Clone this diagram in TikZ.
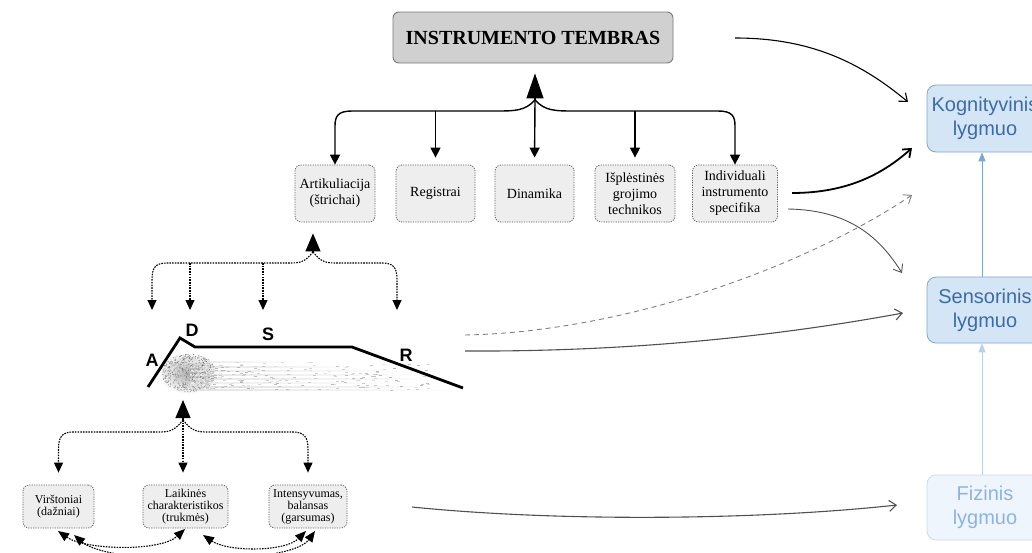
\documentclass[tikz,border=0pt]{standalone}
\usepackage{fontspec}
\setmainfont{Liberation Serif}
\newfontfamily\helv{Liberation Sans}
\usetikzlibrary{arrows.meta}

\definecolor{titlefill}{HTML}{D0D0D0}
\definecolor{titleline}{HTML}{7A7A7A}
\definecolor{boxfill}{HTML}{EEEEEE}
\definecolor{boxline}{HTML}{606060}
\definecolor{lvlfill}{HTML}{D4E6F6}
\definecolor{lvlline}{HTML}{7FA4D3}
\definecolor{lvltext}{HTML}{3D6CA8}
\definecolor{fizfill}{HTML}{EEF5FC}
\definecolor{fizline}{HTML}{C8DBF1}
\definecolor{fiztext}{HTML}{8DB3E2}
\definecolor{linkgray}{HTML}{505050}

\begin{document}
\begin{tikzpicture}[x=1pt,y=-1pt,
  titlebox/.style={draw=titleline, fill=titlefill, rounded corners=6pt, line width=0.9pt,
    minimum width=280pt, minimum height=51pt, inner sep=0pt,
    font=\fontsize{20}{24}\selectfont\bfseries},
  aspect/.style={draw=boxline, fill=boxfill, rounded corners=6pt, line width=0.8pt,
    dash pattern=on 1.2pt off 1.2pt, minimum height=57pt, inner sep=2pt, align=center,
    font=\fontsize{14}{16}\selectfont},
  feature/.style={aspect, minimum height=43pt, font=\fontsize{12}{12}\selectfont},
  level/.style={draw=lvlline, fill=lvlfill, text=lvltext, rounded corners=9pt, line width=0.8pt,
    minimum width=116pt, inner sep=0pt, align=center, font=\helv\fontsize{20}{24}\selectfont},
  fizlevel/.style={level, draw=fizline, fill=fizfill, text=fiztext},
  adsr/.style={font=\helv\bfseries\fontsize{18}{20}\selectfont, inner sep=0pt},
  tree/.style={line width=1.4pt, -{Triangle[width=10pt,length=10pt]}},
  dtree/.style={line width=1.1pt, dash pattern=on 1.6pt off 1.1pt, -{Triangle[width=9pt,length=10pt]}},
  dboth/.style={line width=1.1pt, dash pattern=on 1.6pt off 1.1pt,
    {Triangle[width=9pt,length=11pt]}-{Triangle[width=9pt,length=11pt]}},
  link/.style={line width=1.1pt, -{Straight Barb[length=7pt,width=11pt]}},
  bluearr/.style={line width=1pt, -{Triangle[width=7pt,length=9pt]}}
]
\useasboundingbox (0,0) rectangle (1032,552);

% ---------- nodes ----------
\node[titlebox] (title) at (533,37.5) {INSTRUMENTO TEMBRAS};

\node[aspect, minimum width=80pt] (art) at (335,193.5) {Artikuliacija\\(štrichai)};
\node[aspect, minimum width=79pt] (reg) at (435.5,193.5) {Registrai};
\node[aspect, minimum width=79pt] (din) at (534.5,193.5) {Dinamika};
\node[aspect, minimum width=80pt] (isp) at (635,193.5) {Išplėstinės\\grojimo\\technikos};
\node[aspect, minimum width=85pt] (ind) at (735,193.5) {Individuali\\instrumento\\specifika};

\node[feature, minimum width=71pt] (vir) at (58.5,506.5) {Virštoniai\\(dažniai)};
\node[feature, minimum width=85pt] (lai) at (185.5,506.5) {Laikinės\\charakteristikos\\(trukmės)};
\node[feature, minimum width=78pt] (int) at (308,506.5) {Intensyvumas,\\balansas\\(garsumas)};

\node[level, minimum height=67pt] (kog) at (985,118.5) {Kognityvinis\\lygmuo};
\node[level, minimum height=66pt] (sen) at (985,310) {Sensorinis\\lygmuo};
\node[fizlevel, minimum height=65pt] (fiz) at (985,507.5) {Fizinis\\lygmuo};

% ---------- ADSR envelope with its grainy sound cloud ----------
\shade[inner color=gray!60, outer color=white] (188,373) ellipse [x radius=30pt, y radius=21pt];
\foreach \yy/\xe/\op in {361/300/18, 366/360/22, 370/410/18, 374/430/20, 378/445/22, 382/420/15, 386/450/25, 389/460/22}{
  \shade[left color=gray!\op, right color=white] (190,\yy) rectangle (\xe,\yy+1);
}
\pgfmathsetseed{41}
\foreach \i in {1,...,700}{
  \pgfmathsetmacro{\rr}{sqrt(rnd)}
  \pgfmathsetmacro{\ang}{360*rnd}
  \pgfmathsetmacro{\px}{189+27*\rr*cos(\ang)}
  \pgfmathsetmacro{\py}{373+19*\rr*sin(\ang)}
  \pgfmathsetmacro{\pg}{20+40*rnd}
  \fill[black!\pg] (\px,\py) circle[radius=0.5pt];
}
\foreach \i in {1,...,220}{
  \pgfmathsetmacro{\ru}{rnd}
  \pgfmathsetmacro{\px}{205+230*\ru*\ru}
  \pgfmathsetmacro{\py}{362+28*rnd}
  \pgfmathsetmacro{\pg}{10+20*rnd}
  \fill[black!\pg] (\px,\py) rectangle ++(3,0.7);
}
\draw[line width=2.8pt, line join=miter] (148,387) -- (180,338) -- (195,347) -- (352,347) -- (463,388);
\node[adsr] (lA) at (152,360) {A};
\node[adsr] (lD) at (192,330) {D};
\node[adsr] (lS) at (268,334) {S};
\node[adsr] (lR) at (406,355) {R};

% ---------- timbre tree ----------
\coordinate (jt) at (535,100);
\coordinate (hbar) at (0,111);
\draw[line width=1.4pt, -{Triangle[width=17pt,length=25pt]}, shorten >=10pt] (jt) -- (jt |- title.south);
\draw[tree] (jt) .. controls (525,111) and (515,111) .. (495,111) -- (352,111)
  .. controls (338,111) and (335,116) .. (335,126) -- (art.north);
\draw[tree] (jt) .. controls (545,111) and (555,111) .. (575,111) -- (718,111)
  .. controls (732,111) and (735,116) .. (735,126) -- (ind.north);
\draw[tree, shorten >=7pt] (reg.north |- hbar) -- (reg.north);
\draw[tree, shorten >=7pt] (jt) -- (din.north);
\draw[tree, shorten >=7pt] (isp.north |- hbar) -- (isp.north);

% ---------- articulation tree (envelope phases) ----------
\coordinate (ja) at (313,252);
\coordinate (dbar) at (0,263);
\coordinate (tA) at (152,310);
\coordinate (tD) at (190,310);
\coordinate (tS) at (263,310);
\coordinate (tR) at (397,310);
\draw[line width=1.1pt, -{Triangle[width=15pt,length=18pt]}, shorten >=11pt] (ja) -- (ja |- art.south);
\draw[dtree] (ja) .. controls (305,262) and (300,263) .. (290,263) -- (167,263)
  .. controls (155,263) and (152,268) .. (152,280) -- (tA);
\draw[dtree] (ja) .. controls (321,262) and (326,263) .. (336,263) -- (382,263)
  .. controls (394,263) and (397,268) .. (397,280) -- (tR);
\draw[dtree] (tD |- dbar) -- (tD);
\draw[dtree] (tS |- dbar) -- (tS);

% ---------- sound feature tree ----------
\coordinate (jb) at (183,420);
\coordinate (env) at (183,392);
\coordinate (bbar) at (0,432);
\draw[line width=1.1pt, -{Triangle[width=15pt,length=18pt]}, shorten >=8pt] (jb) -- (env);
\draw[dtree, shorten >=12pt] (jb) .. controls (175,430) and (170,432) .. (160,432) -- (73,432)
  .. controls (62,432) and (58.5,437) .. (58.5,449) -- (vir.north);
\draw[dtree, shorten >=12pt] (jb) .. controls (191,430) and (196,432) .. (206,432) -- (293,432)
  .. controls (304,432) and (308,437) .. (308,449) -- (int.north);
\draw[dtree, shorten >=12pt] (jb) -- (jb |- lai.north);

% ---------- interactions between the features ----------
\coordinate (va) at (58,531);
\coordinate (vb) at (74,535);
\coordinate (la) at (185,529);
\coordinate (lb) at (203,535);
\coordinate (ia) at (306,531);
\coordinate (ib) at (315,531);
\draw[dboth] (va) .. controls (85,550) and (160,552) .. (la);
\draw[dboth] (lb) .. controls (228,552) and (285,552) .. (ia);
\draw[dboth] (vb) .. controls (110,566) and (290,566) .. (ib);

% ---------- links to the perception levels ----------
\coordinate (t1) at (735,38);
\coordinate (i1) at (792,193);
\coordinate (i2) at (788,209);
\coordinate (e1) at (465,335);
\coordinate (e2) at (465,351);
\coordinate (f0) at (412,507);
\coordinate (k1) at (908,102);
\coordinate (k2) at (912,148);
\coordinate (k3) at (912,195);
\coordinate (s1) at (902,273);
\coordinate (s2) at (903,313);
\coordinate (f1) at (897,505);
\draw[link] (t1) .. controls (810,38) and (860,62) .. (k1);
\draw[link, line width=1.8pt] (i1) .. controls (850,193) and (885,172) .. (k2);
\draw[link, draw=linkgray, line width=0.9pt] (i2) .. controls (850,210) and (880,238) .. (s1);
\draw[link, draw=gray, line width=0.9pt, dash pattern=on 5pt off 4pt] (e1) .. controls (620,332) and (800,270) .. (k3);
\draw[link, draw=linkgray] (e2) .. controls (650,352) and (800,332) .. (s2);
\draw[link, draw=linkgray] (f0) .. controls (560,522) and (760,520) .. (f1);

% ---------- level hierarchy ----------
\draw[bluearr, draw=lvlline, fill=lvlline] ([xshift=-3pt]sen.north) -- ([xshift=-3pt]kog.south);
\draw[bluearr, draw=fizline!80!lvlline, fill=fizline!80!lvlline] ([xshift=-3pt]fiz.north) -- ([xshift=-3pt]sen.south);
\end{tikzpicture}
\end{document}
